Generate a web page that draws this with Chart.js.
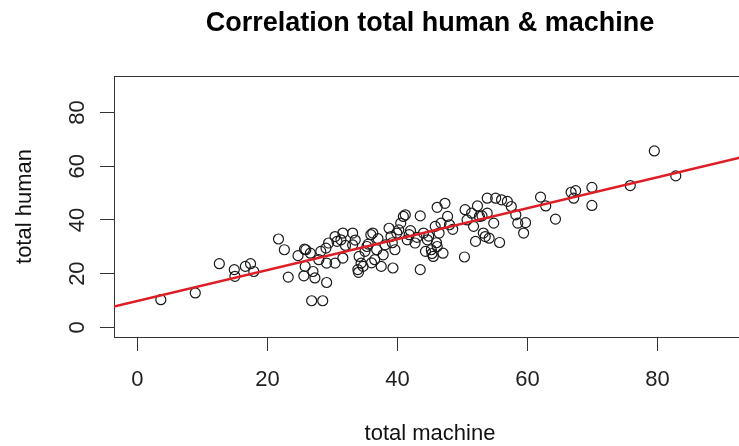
<!DOCTYPE html>
<html>
<head>
<meta charset="utf-8">
<script src="https://cdn.jsdelivr.net/npm/chart.js@4/dist/chart.umd.min.js"></script>
<style>
  html, body { margin: 0; padding: 0; background: #fff; overflow: hidden; }
  #wrap { width: 860px; height: 446px; }
</style>
</head>
<body>
<div id="wrap"><canvas id="myChart" width="860" height="446"></canvas></div>
<script>
// values
const totalMachine = [
  3.6, 8.9, 12.6, 14.9, 15.0, 16.6, 17.4, 17.9, 21.7, 22.6, 23.2, 24.7, 25.7, 25.8, 25.9, 25.6,
  26.6, 27.0, 27.3, 26.8, 28.5, 27.9, 28.2, 29.1, 29.1, 29.4, 30.4, 30.7, 30.4, 31.3, 31.6, 31.6,
  33.1, 33.1, 33.9, 34.1, 34.4, 34.7, 35.0, 35.3, 35.9, 36.2, 36.5, 36.8, 37.5, 37.8, 38.1, 38.7,
  39.0, 39.3, 39.6, 39.9, 40.2, 40.5, 40.9, 41.2, 41.5, 41.8, 42.7, 43.5, 43.5, 44.0, 44.3, 44.6,
  45.2, 45.5, 45.8, 46.1, 46.1, 46.4, 46.7, 47.0, 47.3, 47.7, 48.0, 50.3, 50.4, 50.7, 51.4, 51.7,
  52.0, 52.3, 52.6, 53.2, 53.5, 53.8, 53.8, 54.1, 54.8, 55.1, 55.7, 56.0, 56.9, 57.5, 58.2, 58.5,
  59.4, 59.7, 62.0, 62.8, 64.3, 66.7, 67.4, 67.1, 69.9, 69.9, 75.8, 79.5, 82.8,
  34.0, 35.5, 37.0, 42.0, 44.8, 46.0, 45.3, 39.2, 33.5, 48.5, 43.0, 32.0, 36.0, 53.0, 29.0
];
const totalHuman = [
  10.3, 12.8, 23.7, 21.5, 19.0, 22.7, 23.7, 20.8, 32.9, 28.9, 18.7, 26.7, 29.1, 22.7, 28.9, 19.2,
  27.6, 20.8, 18.4, 9.9, 9.9, 25.2, 28.3, 16.7, 23.9, 31.4, 33.8, 32.0, 23.9, 32.6, 35.1, 25.8,
  35.1, 30.7, 21.5, 26.4, 23.9, 22.7, 28.3, 30.1, 34.5, 35.1, 25.2, 28.9, 22.7, 27.0, 30.7, 36.9,
  33.8, 22.1, 28.9, 35.1, 36.3, 38.8, 41.3, 41.9, 32.6, 34.5, 31.4, 41.5, 21.5, 35.1, 28.3, 32.6,
  28.9, 26.4, 37.6, 44.7, 30.1, 35.1, 38.8, 27.6, 46.2, 41.3, 38.2, 26.2, 43.8, 40.0, 42.5, 37.6,
  32.0, 45.2, 41.3, 35.1, 33.8, 48.1, 42.5, 33.2, 38.8, 48.1, 31.6, 47.5, 46.9, 45.0, 41.9, 38.8,
  35.1, 39.0, 48.5, 45.2, 40.3, 50.3, 50.9, 48.1, 52.1, 45.4, 52.8, 65.7, 56.4,
  20.5, 31.0, 33.0, 36.0, 34.0, 31.5, 27.5, 31.5, 32.5, 36.5, 33.5, 30.5, 24.0, 41.5, 29.5
];

// fitted line, ends read at the plot edges
const fitMachine = [-3.6, 93.6];
const fitHuman = [7.7, 63.7];

const xTicks = [0, 20, 40, 60, 80];
const yTicks = [0, 20, 40, 60, 80];

const points = totalMachine.map((x, i) => ({ x: x, y: totalHuman[i] }));
const fitLine = fitMachine.map((x, i) => ({ x: x, y: fitHuman[i] }));

const fontFamily = "'Liberation Sans', Arial, Helvetica, sans-serif";
const axisColor = "#333";

// R style box around the plot region
const boxPlugin = {
  id: "plotBox",
  beforeDatasetsDraw(chart) {
    const a = chart.chartArea;
    const ctx = chart.ctx;
    ctx.save();
    ctx.strokeStyle = axisColor;
    ctx.lineWidth = 1;
    ctx.strokeRect(Math.round(a.left) + 0.5, Math.round(a.top) + 0.5,
      Math.round(a.right - a.left), Math.round(a.bottom - a.top));
    ctx.restore();
  }
};

const ctx = document.getElementById("myChart").getContext("2d");
new Chart(ctx, {
  type: "scatter",
  data: {
    datasets: [
      {
        type: "line",
        label: "fit",
        data: fitLine,
        borderColor: "rgb(222, 30, 38)",
        borderWidth: 2.5,
        pointRadius: 0,
        fill: false
      },
      {
        label: "points",
        data: points,
        pointStyle: "circle",
        pointRadius: 5,
        pointBorderWidth: 1.2,
        pointBorderColor: "#1a1a1a",
        pointBackgroundColor: "rgba(0,0,0,0)"
      }
    ]
  },
  options: {
    responsive: false,
    animation: false,
    devicePixelRatio: 1,
    layout: { padding: 0 },
    plugins: {
      legend: { display: false },
      tooltip: { enabled: false },
      title: {
        display: true,
        text: "Correlation total human & machine",
        color: "#000",
        font: { family: fontFamily, size: 27, weight: "bold", lineHeight: 1.2 },
        padding: { top: 7, bottom: 36.6 }
      }
    },
    scales: {
      x: {
        type: "linear",
        min: -3.6,
        max: 93.6,
        afterBuildTicks: (scale) => { scale.ticks = xTicks.map((v) => ({ value: v })); },
        afterFit: (scale) => { scale.height = 109; },
        grid: { drawOnChartArea: false, drawTicks: true, tickLength: 14, color: axisColor, tickColor: axisColor },
        border: { display: true, color: axisColor },
        ticks: {
          color: "#222",
          padding: 16,
          maxRotation: 0,
          font: { family: fontFamily, size: 22 }
        },
        title: {
          display: true,
          text: "total machine",
          color: "#111",
          font: { family: fontFamily, size: 22, lineHeight: 1 },
          padding: { top: 0, bottom: 1 }
        }
      },
      y: {
        type: "linear",
        min: -3.6,
        max: 93.6,
        afterBuildTicks: (scale) => { scale.ticks = yTicks.map((v) => ({ value: v })); },
        afterFit: (scale) => { scale.width = 114; },
        grid: { drawOnChartArea: false, drawTicks: true, tickLength: 14, color: axisColor, tickColor: axisColor },
        border: { display: true, color: axisColor },
        ticks: {
          color: "#222",
          padding: 10,
          minRotation: 90,
          maxRotation: 90,
          crossAlign: "center",
          font: { family: fontFamily, size: 22 }
        },
        title: {
          display: true,
          text: "total human",
          color: "#111",
          font: { family: fontFamily, size: 22, lineHeight: 1 },
          padding: { top: 13.5, bottom: 0 }
        }
      },
      // empty right margin so the title centres over the plot region
      yRight: {
        type: "linear",
        position: "right",
        min: -3.6,
        max: 93.6,
        afterFit: (scale) => { scale.width = 114; },
        grid: { display: false },
        border: { display: false },
        ticks: { display: false }
      }
    }
  },
  plugins: [boxPlugin]
});
</script>
</body>
</html>
